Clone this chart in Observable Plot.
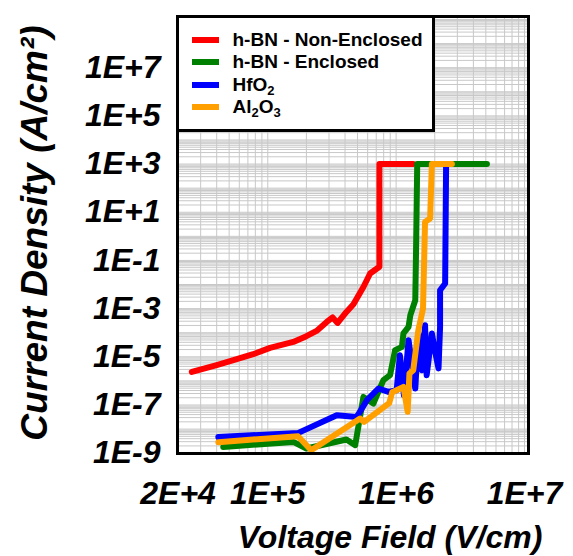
<!DOCTYPE html>
<html>
<head>
<meta charset="utf-8">
<script src="https://cdn.jsdelivr.net/npm/d3@7"></script>
<script src="https://cdn.jsdelivr.net/npm/@observablehq/plot@0.6"></script>
<style>
  html, body { margin: 0; padding: 0; background: #fff; }
  #wrap { position: relative; width: 573px; height: 556px; font-family: Arial, "Liberation Sans", sans-serif; }
  #legend { position: absolute; left: 175.5px; top: 14.5px; width: 259px; height: 117px; box-sizing: border-box;
            border: 3px solid #000; background: #fff; }
  .row { position: absolute; left: 0; height: 22px; }
  .sw { position: absolute; left: 13px; width: 27px; height: 6px; }
  .lab { position: absolute; left: 54px; white-space: nowrap; font-weight: bold; font-size: 19px; line-height: 22px; color: #000; }
  .lab sub { font-size: 13px; vertical-align: -4px; line-height: 0; }
</style>
</head>
<body>
<div id="wrap"></div>
<script>
// ---- Data ----
const seriesNames = ["h-BN - Non-Enclosed", "h-BN - Enclosed", "HfO<sub>2</sub>", "Al<sub>2</sub>O<sub>3</sub>"];
const seriesColors = ["#ff0000", "#008000", "#0000ff", "#ffa000"];

const redX = [2.56e4, 4.0e4, 5.4e4, 7.7e4, 1.04e5, 1.58e5, 2.0e5, 2.4e5, 2.88e5, 3.2e5, 3.5e5, 4.1e5, 4.65e5, 5.56e5, 6.27e5, 7.41e5, 7.41e5, 1.36e6];
const redY = [2.36e-6, 4.5e-6, 7.2e-6, 1.28e-5, 2.34e-5, 4.15e-5, 7.2e-5, 1.19e-4, 2.8e-4, 4.3e-4, 2.55e-4, 7.3e-4, 1.52e-3, 7.9e-3, 2.86e-2, 5.48e-2, 1e3, 1e3];

const greenX = [4.5e4, 1.58e5, 2.0e5, 4.1e5, 4.8e5, 5.56e5, 6.65e5, 7.96e5, 8.97e5, 9.82e5, 1.11e6, 1.14e6, 1.25e6, 1.29e6, 1.41e6, 1.43e6, 1.46e6, 5.1e6];
const greenY = [1.82e-9, 2.94e-9, 1.57e-9, 3.7e-9, 2.15e-9, 2.17e-7, 1.15e-7, 1.07e-6, 1.73e-6, 1.88e-5, 2.58e-5, 9.3e-5, 1.74e-4, 5.3e-4, 2.23e-3, 0.265, 1e3, 1e3];

const blueX = [4.12e4, 1.73e5, 3.45e5, 4.94e5, 5.92e5, 7.28e5, 8.71e5, 1.01e6, 1.07e6, 1.15e6, 1.25e6, 1.41e6, 1.49e6, 1.59e6, 1.68e6, 1.73e6, 1.9e6, 1.98e6, 2.14e6, 2.2e6, 2.2e6, 2.41e6, 2.45e6, 2.45e6];
const blueY = [4.7e-9, 6.95e-9, 3.78e-8, 3.2e-8, 1.58e-7, 4.84e-7, 3.5e-7, 4.1e-7, 1.16e-5, 2.55e-7, 4.9e-5, 4.8e-7, 9.3e-5, 2.78e-6, 2.05e-4, 1.73e-6, 9.3e-5, 2.6e-5, 3.3e-6, 1.74e-4, 5.8e-3, 0.011, 670, 1e3];

const orangeX = [4.12e4, 1.72e5, 2.18e5, 5.24e5, 5.63e5, 8.83e5, 9.32e5, 1.14e6, 1.23e6, 1.27e6, 1.36e6, 1.49e6, 1.57e6, 1.62e6, 1.68e6, 1.84e6, 1.9e6, 2.72e6];
const orangeY = [2.86e-9, 5.07e-9, 1.33e-9, 2.75e-8, 1.99e-8, 1.19e-7, 3.4e-7, 5.6e-7, 5.2e-8, 2.03e-6, 2.78e-6, 1.27e-4, 4.5e-4, 1.0e-3, 3.96, 5.5, 1e3, 1e3];

const xTicks = [2e4, 1e5, 1e6, 1e7];
const xTickLabels = ["2E+4", "1E+5", "1E+6", "1E+7"];
const yTicks = [1e-9, 1e-7, 1e-5, 1e-3, 1e-1, 1e1, 1e3, 1e5, 1e7];
const yTickLabels = ["1E-9", "1E-7", "1E-5", "1E-3", "1E-1", "1E+1", "1E+3", "1E+5", "1E+7"];
const xTitle = "Voltage Field (V/cm)";
const yTitle = "Current Density (A/cm²)";

// ---- Build tables ----
const toRows = (xs, ys) => xs.map((x, i) => ({x, y: ys[i]}));
const series = [toRows(redX, redY), toRows(greenX, greenY), toRows(blueX, blueY), toRows(orangeX, orangeY)];

const xDomain = [1.98e4, 1.075e7];
const yDomain = [9.7e-10, 1.33e9];
const minor = (lo, hi) => {
  const out = [];
  for (let e = Math.floor(Math.log10(lo)); e <= Math.ceil(Math.log10(hi)); e++)
    for (let m = 1; m <= 9; m++) { const v = m * Math.pow(10, e); if (v >= lo && v <= hi) out.push(v); }
  return out;
};
const xGrid = minor(xDomain[0], xDomain[1]);
const yGrid = minor(yDomain[0], yDomain[1]);

const fmtX = d => xTickLabels[xTicks.findIndex(t => Math.abs(t - d) / t < 1e-6)];
const fmtY = d => yTickLabels[yTicks.findIndex(t => Math.abs(t - d) / t < 1e-6)];

const font = {fontSize: 32, fontWeight: "bold", fontStyle: "italic", fill: "#000"};

const chart = Plot.plot({
  width: 573, height: 556,
  marginLeft: 177, marginRight: 45, marginTop: 16, marginBottom: 103,
  style: {fontFamily: 'Arial, "Liberation Sans", sans-serif', background: "#fff"},
  x: {type: "log", domain: xDomain},
  y: {type: "log", domain: yDomain},
  marks: [
    Plot.gridX(xGrid, {stroke: "#c8c8c8", strokeOpacity: 1, strokeWidth: 1}),
    Plot.gridY(yGrid, {stroke: "#c8c8c8", strokeOpacity: 1, strokeWidth: 1}),
    ...series.map((rows, i) => Plot.line(rows, {x: "x", y: "y", stroke: seriesColors[i], strokeWidth: 6, strokeLinejoin: "round", strokeLinecap: "round"})),
    Plot.frame({stroke: "#000", strokeWidth: 3}),
    Plot.axisX({ticks: xTicks, tickSize: 0, tickPadding: 28, tickFormat: fmtX, label: null, ...font}),
    Plot.axisY({ticks: yTicks, tickSize: 0, tickPadding: 17, tickFormat: fmtY, label: null, ...font}),
    Plot.text([xTitle], {frameAnchor: "bottom", text: d => d, dx: 37, dy: 84, lineAnchor: "middle", textAnchor: "middle", fontSize: 32, fontWeight: "bold", fontStyle: "italic", fill: "#000"}),
    Plot.text([yTitle], {frameAnchor: "left", text: d => d, rotate: -90, dx: -142, dy: -2, lineAnchor: "middle", textAnchor: "middle", fontSize: 37, fontWeight: "bold", fontStyle: "italic", fill: "#000"})
  ]
});

const wrap = document.getElementById("wrap");
wrap.appendChild(chart);

// ---- Legend (overlaid inside the frame, top-left) ----
const legend = document.createElement("div");
legend.id = "legend";
const rowCenters = [40, 62.3, 85, 107.3];
seriesNames.forEach((name, i) => {
  const row = document.createElement("div");
  row.className = "row";
  row.style.top = (rowCenters[i] - 14.5 - 3 - 11) + "px";
  const sw = document.createElement("div");
  sw.className = "sw";
  sw.style.background = seriesColors[i];
  sw.style.top = "8px";
  const lab = document.createElement("div");
  lab.className = "lab";
  lab.innerHTML = name;
  lab.style.top = "0px";
  row.appendChild(sw);
  row.appendChild(lab);
  legend.appendChild(row);
});
wrap.appendChild(legend);
</script>
</body>
</html>
